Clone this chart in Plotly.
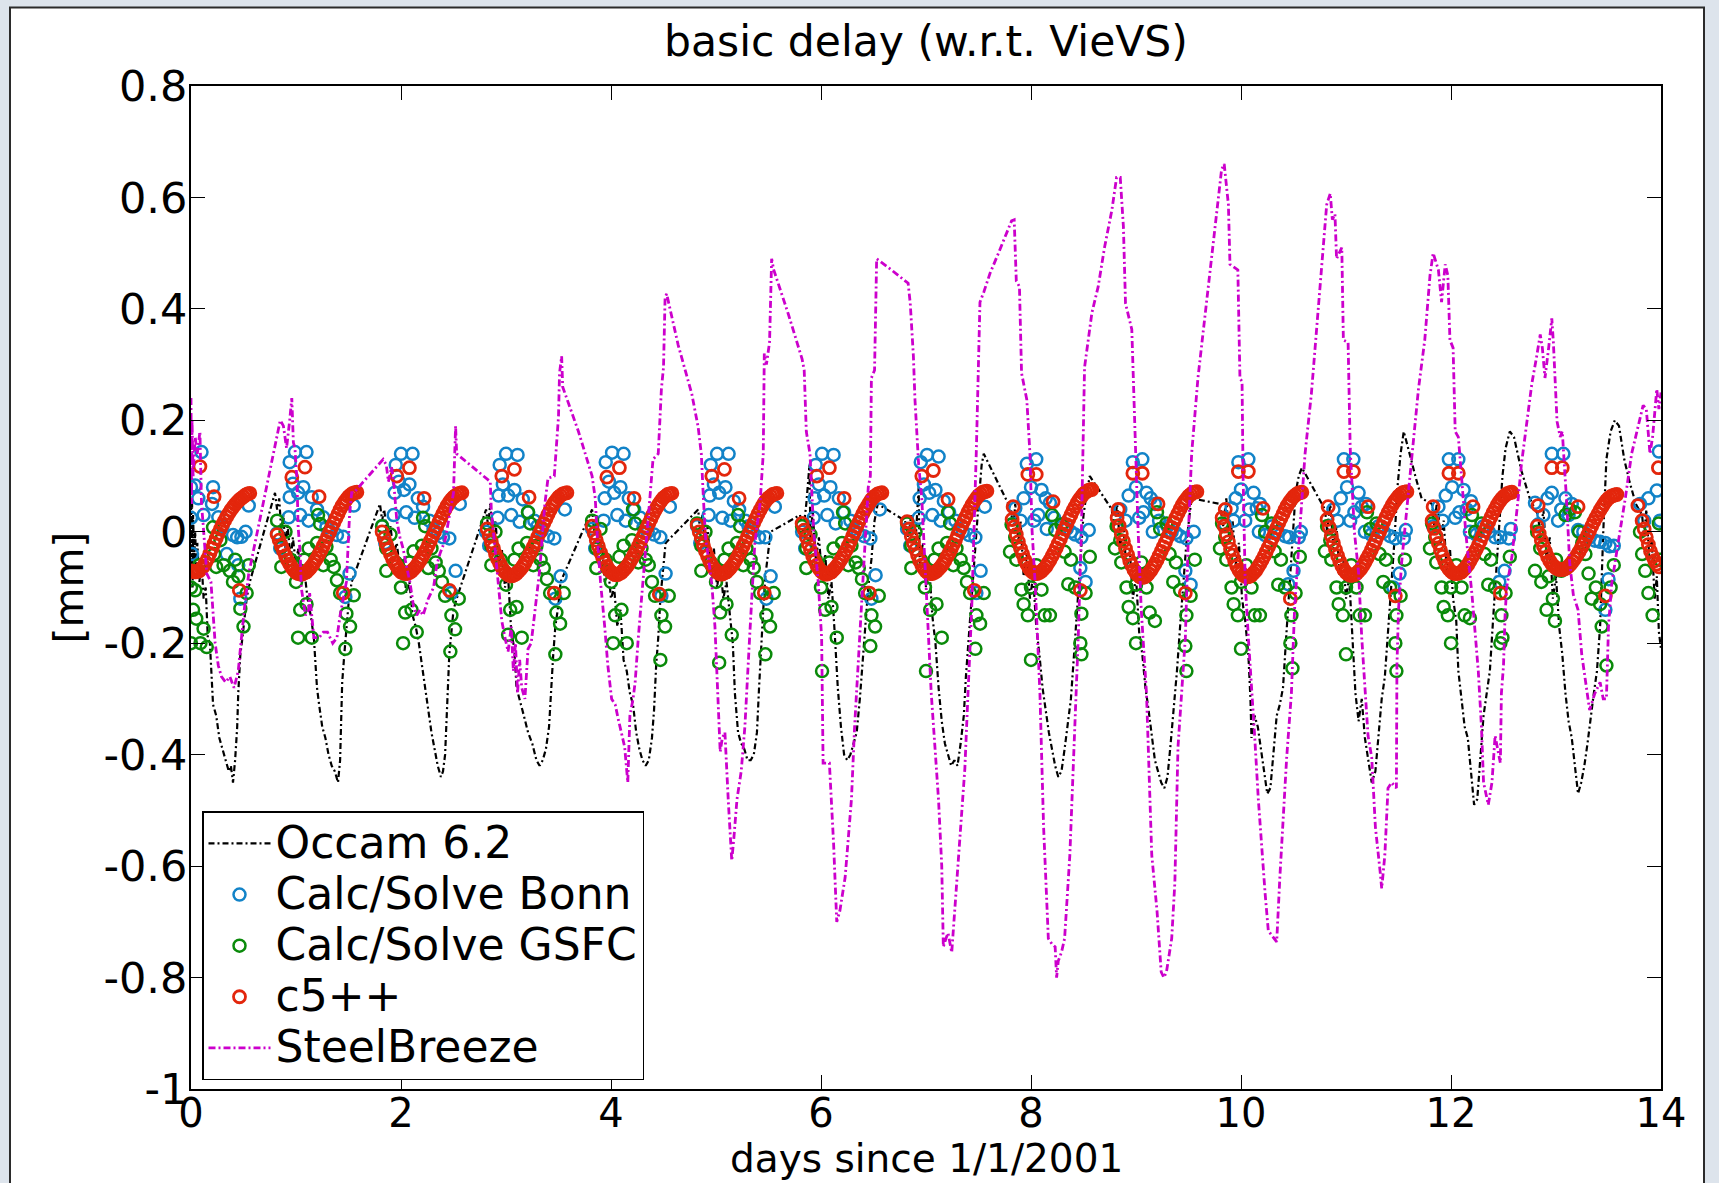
import plotly.graph_objects as go

# ---------------- data (days since 1/1/2001, mm) ----------------
occam = [
    (0.00, 0.05), (0.005, -0.08), (0.01, 0.06), (0.015, -0.10), (0.02, 0.03), (0.03, -0.05), (0.04, 0.00), (0.05, -0.07),
    (0.06, -0.02), (0.08, -0.09), (0.10, -0.05), (0.12, -0.12), (0.14, -0.10), (0.16, -0.19), (0.18, -0.20), (0.21, -0.31),
    (0.24, -0.33), (0.27, -0.37), (0.30, -0.39), (0.33, -0.41), (0.36, -0.43), (0.38, -0.42), (0.40, -0.45), (0.42, -0.41),
    (0.44, -0.35), (0.45, -0.29), (0.47, -0.22), (0.49, -0.19), (0.51, -0.15), (0.53, -0.12), (0.56, -0.09),
    (0.80, 0.07), (0.82, 0.04), (0.84, 0.06), (0.86, 0.00), (0.88, 0.03), (0.90, -0.03), (0.92, 0.01), (0.95, -0.05),
    (0.97, -0.01), (1.00, -0.06), (1.02, -0.03), (1.05, -0.09), (1.08, -0.07), (1.11, -0.12), (1.14, -0.15), (1.17, -0.19),
    (1.20, -0.28), (1.22, -0.31), (1.25, -0.35), (1.28, -0.37), (1.31, -0.40), (1.34, -0.42), (1.37, -0.43), (1.40, -0.45),
    (1.42, -0.41), (1.43, -0.34), (1.44, -0.27), (1.46, -0.22), (1.48, -0.17), (1.50, -0.13), (1.53, -0.09),
    (1.80, 0.05), (1.82, 0.02), (1.84, 0.04), (1.87, -0.01), (1.90, 0.01), (1.93, -0.04), (1.96, -0.02), (1.99, -0.07),
    (2.02, -0.05), (2.05, -0.11), (2.08, -0.09), (2.11, -0.15), (2.14, -0.17), (2.17, -0.20), (2.20, -0.24), (2.23, -0.28),
    (2.26, -0.32), (2.29, -0.36), (2.32, -0.39), (2.35, -0.42), (2.38, -0.44), (2.40, -0.43), (2.42, -0.40), (2.44, -0.30),
    (2.46, -0.22), (2.48, -0.18), (2.50, -0.14), (2.53, -0.12),
    (2.81, 0.04), (2.83, 0.01), (2.85, 0.05), (2.88, -0.02), (2.90, 0.02), (2.93, -0.06), (2.96, -0.03), (2.99, -0.10),
    (3.02, -0.08), (3.05, -0.18), (3.08, -0.21), (3.10, -0.28), (3.13, -0.30), (3.17, -0.33), (3.21, -0.36), (3.25, -0.38),
    (3.29, -0.41), (3.32, -0.42), (3.35, -0.41), (3.38, -0.39), (3.41, -0.35), (3.43, -0.28), (3.45, -0.22), (3.47, -0.17),
    (3.50, -0.13), (3.52, -0.09),
    (3.82, 0.04), (3.84, 0.00), (3.86, 0.03), (3.89, -0.04), (3.91, -0.01), (3.94, -0.09), (3.97, -0.06), (4.00, -0.12),
    (4.03, -0.10), (4.06, -0.17), (4.09, -0.14), (4.12, -0.23), (4.15, -0.25), (4.18, -0.29), (4.21, -0.31), (4.24, -0.36),
    (4.27, -0.39), (4.30, -0.41), (4.33, -0.42), (4.36, -0.41), (4.39, -0.37), (4.41, -0.32), (4.43, -0.24), (4.45, -0.19),
    (4.47, -0.12), (4.50, -0.06), (4.52, -0.02),
    (4.83, 0.04), (4.85, 0.00), (4.87, 0.03), (4.90, -0.03), (4.92, 0.01), (4.95, -0.07), (4.98, -0.03), (5.01, -0.10),
    (5.04, -0.06), (5.07, -0.12), (5.10, -0.09), (5.13, -0.15), (5.16, -0.20), (5.18, -0.29), (5.21, -0.36), (5.24, -0.38),
    (5.27, -0.39), (5.30, -0.41), (5.33, -0.41), (5.36, -0.40), (5.39, -0.36), (5.41, -0.28), (5.43, -0.20), (5.45, -0.14),
    (5.47, -0.08), (5.50, -0.03), (5.52, 0.00),
    (5.80, 0.03), (5.83, 0.00), (5.86, 0.05), (5.89, 0.12), (5.90, -0.02), (5.92, 0.04), (5.95, -0.05), (5.98, -0.01),
    (6.01, -0.08), (6.04, -0.04), (6.07, -0.12), (6.10, -0.09), (6.13, -0.18), (6.16, -0.28), (6.19, -0.35), (6.22, -0.40),
    (6.25, -0.41), (6.28, -0.40), (6.31, -0.38), (6.34, -0.36), (6.37, -0.30), (6.39, -0.25), (6.42, -0.17), (6.45, -0.10),
    (6.48, -0.05), (6.51, 0.02), (6.54, 0.05),
    (6.80, 0.02), (6.83, -0.01), (6.86, 0.03), (6.90, -0.02), (6.93, 0.08), (6.94, -0.06), (6.97, -0.02), (7.00, -0.10),
    (7.03, -0.06), (7.06, -0.15), (7.09, -0.20), (7.12, -0.28), (7.15, -0.34), (7.18, -0.38), (7.21, -0.40), (7.24, -0.42),
    (7.27, -0.41), (7.30, -0.42), (7.33, -0.38), (7.36, -0.33), (7.38, -0.26), (7.41, -0.18), (7.44, -0.10), (7.47, -0.03),
    (7.50, 0.05), (7.53, 0.12), (7.55, 0.14),
    (7.81, 0.04), (7.83, 0.00), (7.85, 0.05), (7.88, -0.02), (7.90, 0.02), (7.93, -0.08), (7.96, -0.04), (7.99, -0.12),
    (8.02, -0.08), (8.05, -0.17), (8.08, -0.22), (8.11, -0.28), (8.14, -0.32), (8.17, -0.36), (8.20, -0.39), (8.23, -0.42),
    (8.26, -0.44), (8.29, -0.43), (8.32, -0.39), (8.35, -0.34), (8.38, -0.30), (8.41, -0.22), (8.44, -0.14), (8.47, -0.05),
    (8.50, 0.03), (8.53, 0.07), (8.56, 0.10),
    (8.77, 0.04), (8.79, 0.00), (8.82, 0.05), (8.85, -0.03), (8.88, 0.01), (8.91, -0.07), (8.94, -0.03), (8.97, -0.12),
    (9.00, -0.08), (9.03, -0.18), (9.06, -0.22), (9.09, -0.28), (9.12, -0.32), (9.15, -0.37), (9.18, -0.41), (9.21, -0.43),
    (9.24, -0.45), (9.27, -0.46), (9.30, -0.44), (9.33, -0.38), (9.36, -0.32), (9.39, -0.25), (9.42, -0.17), (9.45, -0.10),
    (9.48, -0.02), (9.51, 0.03), (9.53, 0.06),
    (9.80, 0.05), (9.83, 0.01), (9.86, 0.06), (9.89, -0.02), (9.92, 0.02), (9.95, -0.06), (9.98, -0.02), (10.01, -0.12),
    (10.04, -0.16), (10.07, -0.22), (10.09, -0.30), (10.10, -0.37), (10.13, -0.33), (10.16, -0.35), (10.19, -0.39),
    (10.22, -0.43), (10.25, -0.47), (10.28, -0.46), (10.31, -0.40), (10.34, -0.33), (10.37, -0.31), (10.40, -0.28),
    (10.43, -0.19), (10.46, -0.10), (10.49, -0.01), (10.52, 0.07), (10.55, 0.10), (10.58, 0.115),
    (10.80, 0.04), (10.82, 0.00), (10.85, 0.05), (10.88, -0.03), (10.91, 0.01), (10.94, -0.08), (10.97, -0.04),
    (11.00, -0.12), (11.03, -0.08), (11.06, -0.18), (11.09, -0.29), (11.12, -0.34), (11.15, -0.30), (11.18, -0.37),
    (11.21, -0.41), (11.245, -0.45), (11.28, -0.43), (11.31, -0.37), (11.34, -0.30), (11.37, -0.26), (11.40, -0.18),
    (11.43, -0.10), (11.46, -0.02), (11.49, 0.08), (11.52, 0.14), (11.55, 0.18), (11.58, 0.16), (11.62, 0.13),
    (11.66, 0.10), (11.72, 0.06),
    (11.82, 0.05), (11.84, 0.01), (11.87, 0.06), (11.90, -0.02), (11.93, 0.02), (11.96, -0.07), (11.99, -0.03),
    (12.02, -0.12), (12.05, -0.16), (12.07, -0.25), (12.10, -0.30), (12.13, -0.35), (12.16, -0.37), (12.19, -0.43),
    (12.22, -0.49), (12.25, -0.48), (12.28, -0.41), (12.31, -0.33), (12.34, -0.29), (12.37, -0.25), (12.40, -0.16),
    (12.43, -0.07), (12.46, 0.02), (12.49, 0.10), (12.52, 0.15), (12.56, 0.18), (12.60, 0.17), (12.67, 0.11), (12.75, 0.06),
    (12.83, 0.03), (12.85, -0.01), (12.88, 0.04), (12.91, -0.05), (12.94, -0.01), (12.97, -0.12), (13.00, -0.08),
    (13.03, -0.17), (13.06, -0.22), (13.09, -0.29), (13.12, -0.34), (13.15, -0.37), (13.18, -0.42), (13.21, -0.47),
    (13.24, -0.45), (13.27, -0.42), (13.30, -0.38), (13.33, -0.33), (13.36, -0.29), (13.39, -0.25), (13.42, -0.17),
    (13.45, 0.00), (13.48, 0.13), (13.52, 0.18), (13.56, 0.20), (13.60, 0.19), (13.65, 0.13), (13.70, 0.09), (13.76, 0.05),
    (13.82, 0.03), (13.84, -0.01), (13.86, 0.04), (13.89, -0.05), (13.91, -0.01), (13.94, -0.12), (13.96, -0.08),
    (13.98, -0.18), (14.00, -0.21),
]

steelbreeze = [
    (0.00, 0.24), (0.005, 0.05), (0.01, 0.20), (0.02, 0.10), (0.04, 0.17), (0.06, 0.14), (0.085, 0.18), (0.10, 0.05),
    (0.117, 0.01), (0.15, -0.075), (0.19, -0.09), (0.23, -0.20), (0.26, -0.24), (0.29, -0.26), (0.33, -0.27), (0.37, -0.26),
    (0.41, -0.28), (0.45, -0.25), (0.47, -0.21), (0.51, -0.135), (0.55, -0.075),
    (0.85, 0.20), (0.88, 0.19), (0.91, 0.15), (0.94, 0.20), (0.96, 0.24), (0.975, 0.16), (0.99, 0.15), (1.01, 0.09),
    (1.02, 0.01), (1.04, -0.04), (1.05, -0.10), (1.09, -0.15), (1.12, -0.14), (1.13, -0.11), (1.15, -0.15), (1.17, -0.19),
    (1.22, -0.19), (1.26, -0.18), (1.30, -0.18), (1.35, -0.20), (1.39, -0.19), (1.42, -0.15), (1.48, -0.09), (1.51, 0.03),
    (1.53, 0.07), (1.55, 0.07),
    (1.83, 0.13), (1.86, 0.12), (1.88, 0.09), (1.91, 0.116), (1.93, 0.09), (1.94, 0.07), (1.96, 0.02), (1.99, -0.01),
    (2.02, -0.03), (2.05, -0.06), (2.085, -0.09), (2.12, -0.135), (2.15, -0.15), (2.18, -0.14), (2.21, -0.15), (2.26, -0.12),
    (2.31, -0.10), (2.34, -0.06), (2.37, -0.04), (2.42, -0.015), (2.50, 0.07), (2.52, 0.19), (2.53, 0.14),
    (2.85, 0.09), (2.86, 0.04), (2.89, -0.02), (2.93, -0.094), (2.96, -0.16), (2.99, -0.19), (3.02, -0.215), (3.05, -0.17),
    (3.07, -0.25), (3.09, -0.20), (3.11, -0.29), (3.13, -0.23), (3.15, -0.28), (3.18, -0.30), (3.21, -0.21), (3.24, -0.20),
    (3.28, -0.14), (3.32, -0.07), (3.37, 0.05), (3.40, 0.096), (3.46, 0.10), (3.50, 0.207), (3.51, 0.285), (3.53, 0.315),
    (3.54, 0.26),
    (3.69, 0.18), (3.82, 0.10), (3.85, 0.06), (3.87, -0.01), (3.90, -0.09), (3.94, -0.17), (3.97, -0.24), (4.006, -0.30),
    (4.04, -0.31), (4.07, -0.337), (4.13, -0.386), (4.16, -0.45), (4.18, -0.33), (4.21, -0.30), (4.23, -0.27), (4.26, -0.19),
    (4.32, -0.045), (4.37, 0.06), (4.40, 0.13), (4.45, 0.14), (4.48, 0.256), (4.50, 0.295), (4.515, 0.42), (4.53, 0.427),
    (4.64, 0.335), (4.77, 0.247), (4.83, 0.188), (4.86, 0.14), (4.88, 0.06), (4.90, -0.01), (4.93, -0.05), (4.96, -0.094),
    (4.99, -0.17), (5.02, -0.29), (5.04, -0.395), (5.06, -0.37), (5.085, -0.36), (5.117, -0.483), (5.15, -0.59),
    (5.17, -0.55), (5.20, -0.48), (5.24, -0.43), (5.275, -0.35), (5.32, -0.19), (5.37, -0.02), (5.42, 0.052), (5.45, 0.14),
    (5.46, 0.32), (5.48, 0.30), (5.51, 0.34), (5.53, 0.49), (5.55, 0.47),
    (5.69, 0.39), (5.82, 0.31), (5.84, 0.29), (5.86, 0.18), (5.895, 0.14), (5.93, 0.003), (5.975, -0.094), (6.006, -0.19),
    (6.02, -0.415), (6.08, -0.415), (6.12, -0.56), (6.15, -0.70), (6.18, -0.68), (6.23, -0.62), (6.29, -0.48), (6.32, -0.35),
    (6.355, -0.24), (6.40, -0.094), (6.45, 0.08), (6.47, 0.10), (6.48, 0.276), (6.51, 0.29), (6.53, 0.49),
    (6.67, 0.47), (6.83, 0.446), (6.85, 0.41), (6.88, 0.315), (6.895, 0.237), (6.93, 0.12), (6.96, 0.06), (6.99, -0.055),
    (7.02, -0.17), (7.05, -0.29), (7.085, -0.386), (7.12, -0.483), (7.15, -0.60), (7.165, -0.745), (7.19, -0.73),
    (7.21, -0.72), (7.245, -0.755), (7.275, -0.68), (7.32, -0.56), (7.37, -0.425), (7.40, -0.29), (7.435, -0.14),
    (7.48, 0.15), (7.514, 0.412), (7.55, 0.43),
    (7.61, 0.464), (7.69, 0.50), (7.815, 0.558), (7.84, 0.56), (7.86, 0.45), (7.89, 0.44), (7.91, 0.285), (7.96, 0.237),
    (7.99, 0.14), (8.01, 0.003), (8.04, -0.094), (8.085, -0.29), (8.12, -0.53), (8.165, -0.73), (8.20, -0.74),
    (8.23, -0.745), (8.244, -0.80), (8.26, -0.77), (8.29, -0.755), (8.32, -0.73), (8.37, -0.58), (8.40, -0.434),
    (8.45, -0.19), (8.48, 0.00), (8.50, 0.16), (8.51, 0.295),
    (8.58, 0.393), (8.64, 0.44), (8.70, 0.51), (8.77, 0.577), (8.815, 0.636), (8.85, 0.636), (8.88, 0.548), (8.90, 0.41),
    (8.96, 0.363), (8.99, 0.16), (9.02, 0.003), (9.05, -0.14), (9.10, -0.29), (9.12, -0.405), (9.15, -0.58), (9.20, -0.68),
    (9.24, -0.79), (9.265, -0.80), (9.29, -0.79), (9.34, -0.73), (9.37, -0.63), (9.40, -0.386), (9.47, -0.19),
    (9.50, 0.003), (9.53, 0.14),
    (9.59, 0.276), (9.66, 0.393), (9.72, 0.49), (9.78, 0.587), (9.815, 0.65), (9.84, 0.66), (9.86, 0.62), (9.88, 0.587),
    (9.895, 0.48), (9.97, 0.47), (9.99, 0.275), (10.01, 0.27), (10.02, 0.10), (10.04, -0.09), (10.07, -0.19),
    (10.10, -0.27), (10.13, -0.366), (10.165, -0.48), (10.20, -0.58), (10.23, -0.65), (10.26, -0.716), (10.31, -0.73),
    (10.34, -0.736), (10.37, -0.62), (10.40, -0.52), (10.435, -0.405), (10.48, -0.29), (10.51, -0.14), (10.56, 0.003),
    (10.61, 0.14), (10.67, 0.247), (10.72, 0.363), (10.77, 0.47), (10.816, 0.587), (10.85, 0.607), (10.87, 0.56),
    (10.895, 0.57), (10.91, 0.49), (10.96, 0.51), (10.975, 0.344), (11.02, 0.34), (11.04, 0.15), (11.08, 0.00),
    (11.12, -0.074), (11.15, -0.19), (11.18, -0.28), (11.21, -0.366), (11.245, -0.405), (11.28, -0.53), (11.325, -0.61),
    (11.34, -0.64), (11.37, -0.58), (11.40, -0.46), (11.435, -0.45), (11.48, -0.46), (11.485, -0.24), (11.50, -0.14),
    (11.53, -0.055),
    (11.595, 0.08), (11.63, 0.14), (11.69, 0.256), (11.75, 0.344), (11.80, 0.46), (11.83, 0.50), (11.88, 0.47),
    (11.91, 0.412), (11.945, 0.48), (11.97, 0.46), (11.99, 0.344), (12.02, 0.33), (12.04, 0.18), (12.07, 0.17),
    (12.10, 0.10), (12.14, 0.00), (12.20, -0.113), (12.26, -0.25), (12.29, -0.35), (12.31, -0.45), (12.355, -0.49),
    (12.39, -0.45), (12.42, -0.366), (12.47, -0.415), (12.48, -0.29), (12.50, -0.24), (12.515, -0.15), (12.53, -0.10),
    (12.58, -0.045),
    (12.61, 0.003), (12.64, 0.06), (12.67, 0.12), (12.72, 0.198), (12.77, 0.266), (12.816, 0.315), (12.85, 0.354),
    (12.87, 0.33), (12.895, 0.276), (12.93, 0.33), (12.96, 0.383), (12.975, 0.34), (12.99, 0.266), (13.01, 0.198),
    (13.04, 0.17), (13.06, 0.18), (13.086, 0.10), (13.10, 0.06), (13.13, -0.055), (13.165, -0.113), (13.21, -0.14),
    (13.245, -0.22), (13.29, -0.28), (13.32, -0.32), (13.37, -0.29), (13.42, -0.27), (13.45, -0.30), (13.48, -0.30),
    (13.50, -0.17), (13.53, -0.094),
    (13.595, -0.016), (13.66, 0.06), (13.72, 0.14), (13.785, 0.19), (13.83, 0.227), (13.86, 0.22), (13.895, 0.14),
    (13.92, 0.17), (13.94, 0.21), (13.96, 0.256), (13.98, 0.22), (14.00, 0.25),
]

bonn = [
    (0.00, 0.08), (0.00, 0.025), (0.01, -0.04), (0.04, 0.083), (0.10, 0.143), (0.07, 0.06), (0.12, 0.03), (0.20, 0.05),
    (0.21, 0.08), (0.26, 0.026), (0.30, 0.01), (0.34, -0.04), (0.40, -0.006), (0.44, -0.01), (0.48, -0.009), (0.45, -0.06),
    (0.47, -0.12), (0.55, 0.047), (0.52, 0.00),
    (0.82, -0.003), (0.85, -0.03), (0.93, 0.026), (0.94, 0.062), (0.94, 0.125), (0.97, 0.086), (0.99, 0.143), (1.02, 0.07),
    (1.04, 0.03), (1.07, 0.08), (1.10, 0.143), (1.12, 0.02), (1.15, 0.062), (1.20, 0.04), (1.26, 0.026), (1.29, 0.008),
    (1.33, 0.00), (1.39, -0.006), (1.45, -0.009), (1.47, -0.117), (1.51, -0.075), (1.55, 0.047),
    (1.82, 0.01), (1.85, -0.02), (1.93, 0.03), (1.94, 0.07), (1.95, 0.12), (1.98, 0.09), (2.00, 0.14), (2.03, 0.075),
    (2.05, 0.035), (2.08, 0.085), (2.11, 0.14), (2.13, 0.025), (2.16, 0.06), (2.21, 0.045), (2.27, 0.02), (2.31, 0.005),
    (2.35, -0.003), (2.40, -0.01), (2.46, -0.012), (2.48, -0.11), (2.52, -0.07), (2.56, 0.05),
    (2.81, 0.00), (2.84, -0.025), (2.92, 0.025), (2.93, 0.065), (2.94, 0.12), (2.97, 0.085), (3.00, 0.14), (3.02, 0.065),
    (3.05, 0.03), (3.08, 0.075), (3.11, 0.138), (3.13, 0.018), (3.16, 0.058), (3.21, 0.035), (3.27, 0.02), (3.30, 0.01),
    (3.34, 0.002), (3.40, -0.008), (3.46, -0.012), (3.47, -0.12), (3.52, -0.08), (3.56, 0.04),
    (3.82, 0.005), (3.85, -0.03), (3.93, 0.02), (3.94, 0.06), (3.95, 0.125), (3.98, 0.09), (4.01, 0.142), (4.03, 0.07),
    (4.06, 0.03), (4.09, 0.08), (4.12, 0.14), (4.14, 0.02), (4.17, 0.06), (4.22, 0.04), (4.28, 0.025), (4.31, 0.008),
    (4.35, 0.00), (4.41, -0.005), (4.47, -0.01), (4.48, -0.115), (4.52, -0.075), (4.56, 0.045),
    (4.82, 0.01), (4.85, -0.02), (4.93, 0.03), (4.94, 0.065), (4.95, 0.12), (4.98, 0.085), (5.01, 0.14), (5.03, 0.07),
    (5.06, 0.025), (5.09, 0.08), (5.12, 0.14), (5.14, 0.02), (5.17, 0.055), (5.22, 0.04), (5.28, 0.02), (5.31, 0.01),
    (5.35, 0.00), (5.41, -0.01), (5.47, -0.01), (5.48, -0.12), (5.52, -0.08), (5.56, 0.045),
    (5.82, 0.00), (5.85, -0.03), (5.93, 0.025), (5.94, 0.06), (5.95, 0.12), (5.98, 0.085), (6.01, 0.14), (6.03, 0.065),
    (6.06, 0.03), (6.09, 0.08), (6.12, 0.138), (6.14, 0.015), (6.17, 0.06), (6.22, 0.035), (6.28, 0.02), (6.31, 0.005),
    (6.35, -0.002), (6.41, -0.008), (6.47, -0.012), (6.48, -0.12), (6.52, -0.078), (6.56, 0.04),
    (6.82, 0.005), (6.85, -0.025), (6.93, 0.025), (6.94, 0.06), (6.95, 0.125), (6.98, 0.085), (7.01, 0.138), (7.03, 0.07),
    (7.06, 0.03), (7.09, 0.075), (7.12, 0.135), (7.14, 0.02), (7.17, 0.055), (7.22, 0.035), (7.28, 0.02), (7.31, 0.005),
    (7.35, 0.00), (7.41, -0.006), (7.47, -0.01), (7.48, -0.11), (7.52, -0.07), (7.56, 0.045),
    (7.82, 0.013), (7.85, 0.042), (7.90, 0.02), (7.93, 0.06), (7.96, 0.122), (8.00, 0.08), (8.05, 0.13), (8.03, 0.02),
    (8.07, 0.03), (8.10, 0.075), (8.14, 0.06), (8.18, 0.052), (8.15, 0.005), (8.22, 0.025), (8.30, 0.013), (8.34, 0.005),
    (8.38, 0.00), (8.42, -0.005), (8.48, -0.01), (8.47, -0.065), (8.52, -0.09), (8.55, 0.003),
    (8.82, 0.01), (8.85, 0.04), (8.90, 0.02), (8.93, 0.065), (8.97, 0.125), (9.00, 0.08), (9.06, 0.13), (9.03, 0.025),
    (9.07, 0.035), (9.10, 0.07), (9.14, 0.06), (9.18, 0.05), (9.16, 0.00), (9.22, 0.02), (9.30, 0.01), (9.34, 0.00),
    (9.38, -0.002), (9.42, -0.008), (9.48, -0.012), (9.47, -0.07), (9.52, -0.095), (9.55, 0.00),
    (9.85, 0.013), (9.91, 0.042), (9.93, 0.02), (9.95, 0.06), (9.975, 0.125), (10.00, 0.076), (10.07, 0.13), (10.04, 0.02),
    (10.08, 0.04), (10.12, 0.07), (10.15, 0.042), (10.18, 0.05), (10.17, 0.00), (10.23, -0.006), (10.30, 0.01),
    (10.35, 0.00), (10.42, -0.008), (10.46, -0.01), (10.55, -0.01), (10.45, -0.094), (10.50, -0.07), (10.57, 0.00),
    (10.83, 0.01), (10.88, 0.04), (10.92, 0.02), (10.95, 0.06), (10.98, 0.13), (11.01, 0.08), (11.07, 0.13), (11.04, 0.02),
    (11.08, 0.035), (11.12, 0.07), (11.15, 0.045), (11.19, 0.05), (11.18, 0.00), (11.24, -0.005), (11.31, 0.01),
    (11.36, 0.00), (11.42, -0.008), (11.47, -0.012), (11.55, -0.012), (11.45, -0.10), (11.51, -0.075), (11.57, 0.003),
    (11.83, 0.01), (11.88, 0.045), (11.92, 0.02), (11.95, 0.065), (11.98, 0.13), (12.01, 0.08), (12.07, 0.13),
    (12.04, 0.025), (12.08, 0.035), (12.12, 0.075), (12.15, 0.04), (12.19, 0.055), (12.18, 0.00), (12.24, -0.005),
    (12.31, 0.01), (12.36, 0.00), (12.42, -0.01), (12.47, -0.01), (12.55, -0.012), (12.46, -0.09), (12.51, -0.07),
    (12.57, 0.005),
    (12.80, 0.052), (12.83, 0.013), (12.88, 0.03), (12.92, 0.06), (12.96, 0.14), (12.96, 0.07), (13.07, 0.14), (13.02, 0.02),
    (13.05, 0.04), (13.09, 0.06), (13.12, 0.03), (13.15, 0.05), (13.21, 0.003), (13.26, 0.00), (13.32, -0.01),
    (13.37, -0.016), (13.42, -0.018), (13.47, -0.02), (13.51, -0.026), (13.55, -0.025), (13.50, -0.085), (13.47, -0.14),
    (13.80, 0.05), (13.84, 0.02), (13.88, 0.06), (13.96, 0.074), (13.98, 0.144), (13.99, 0.02),
]

gsfc = [
    (0.00, -0.10), (0.00, -0.20), (0.02, -0.14), (0.04, -0.105), (0.05, -0.156), (0.09, -0.20), (0.12, -0.174),
    (0.15, -0.207), (0.08, -0.06), (0.21, 0.008), (0.22, -0.04), (0.24, -0.063), (0.28, -0.015), (0.31, -0.06),
    (0.37, -0.07), (0.40, -0.09), (0.42, -0.05), (0.45, -0.08), (0.47, -0.138), (0.50, -0.17), (0.53, -0.11), (0.55, -0.06),
    (0.82, 0.02), (0.86, -0.027), (0.86, -0.063), (0.90, 0.00), (0.95, -0.05), (1.00, -0.09), (1.02, -0.19), (1.04, -0.14),
    (1.08, -0.05), (1.10, -0.13), (1.12, -0.03), (1.15, -0.19), (1.20, -0.02), (1.21, 0.03), (1.23, 0.014), (1.26, -0.06),
    (1.29, -0.027), (1.33, -0.05), (1.36, -0.063), (1.39, -0.087), (1.42, -0.11), (1.47, -0.21), (1.48, -0.147),
    (1.515, -0.17), (1.55, -0.114),
    (1.82, 0.01), (1.86, -0.03), (1.86, -0.07), (1.90, -0.005), (1.95, -0.055), (2.00, -0.10), (2.02, -0.20), (2.04, -0.145),
    (2.08, -0.055), (2.10, -0.14), (2.12, -0.035), (2.15, -0.18), (2.20, -0.025), (2.21, 0.025), (2.23, 0.01), (2.26, -0.065),
    (2.29, -0.03), (2.33, -0.055), (2.36, -0.07), (2.39, -0.09), (2.42, -0.115), (2.47, -0.215), (2.48, -0.15),
    (2.515, -0.175), (2.55, -0.12),
    (2.82, 0.015), (2.86, -0.025), (2.86, -0.06), (2.90, 0.00), (2.95, -0.05), (3.00, -0.095), (3.02, -0.185), (3.04, -0.14),
    (3.08, -0.05), (3.10, -0.135), (3.12, -0.03), (3.15, -0.19), (3.20, -0.02), (3.21, 0.035), (3.23, 0.015), (3.26, -0.06),
    (3.29, -0.025), (3.33, -0.05), (3.36, -0.065), (3.39, -0.085), (3.42, -0.11), (3.47, -0.22), (3.48, -0.145),
    (3.515, -0.165), (3.55, -0.11),
    (3.82, 0.02), (3.86, -0.03), (3.86, -0.065), (3.90, 0.005), (3.95, -0.05), (4.00, -0.09), (4.02, -0.20), (4.04, -0.15),
    (4.08, -0.045), (4.10, -0.14), (4.12, -0.025), (4.15, -0.20), (4.20, -0.015), (4.21, 0.04), (4.23, 0.015), (4.26, -0.055),
    (4.29, -0.03), (4.33, -0.05), (4.36, -0.06), (4.39, -0.09), (4.42, -0.115), (4.47, -0.23), (4.48, -0.15), (4.515, -0.17),
    (4.55, -0.115),
    (4.82, 0.015), (4.86, -0.025), (4.86, -0.07), (4.90, 0.00), (4.95, -0.055), (5.00, -0.09), (5.03, -0.235), (5.04, -0.145),
    (5.08, -0.05), (5.10, -0.13), (5.12, -0.03), (5.15, -0.185), (5.20, -0.02), (5.21, 0.03), (5.23, 0.01), (5.26, -0.06),
    (5.29, -0.03), (5.33, -0.05), (5.36, -0.065), (5.39, -0.09), (5.42, -0.11), (5.47, -0.22), (5.48, -0.15), (5.515, -0.17),
    (5.55, -0.11),
    (5.82, 0.01), (5.86, -0.03), (5.86, -0.065), (5.90, -0.005), (5.95, -0.05), (6.00, -0.10), (6.01, -0.25), (6.04, -0.14),
    (6.08, -0.055), (6.10, -0.135), (6.12, -0.03), (6.15, -0.19), (6.20, -0.02), (6.21, 0.035), (6.23, 0.015), (6.26, -0.06),
    (6.29, -0.025), (6.33, -0.055), (6.36, -0.065), (6.39, -0.085), (6.42, -0.11), (6.47, -0.205), (6.48, -0.15),
    (6.515, -0.17), (6.55, -0.115),
    (6.82, 0.015), (6.86, -0.025), (6.86, -0.065), (6.90, 0.00), (6.95, -0.05), (6.99, -0.10), (7.00, -0.25), (7.04, -0.14),
    (7.08, -0.05), (7.10, -0.13), (7.12, -0.03), (7.15, -0.19), (7.20, -0.02), (7.21, 0.035), (7.23, 0.015), (7.26, -0.06),
    (7.29, -0.03), (7.33, -0.05), (7.36, -0.065), (7.39, -0.09), (7.42, -0.11), (7.47, -0.21), (7.48, -0.15), (7.515, -0.165),
    (7.55, -0.11),
    (7.80, -0.036), (7.815, 0.013), (7.85, -0.01), (7.86, -0.05), (7.91, -0.104), (7.93, -0.13), (7.97, -0.15), (8.00, -0.23),
    (8.00, -0.10), (8.05, -0.06), (8.10, -0.104), (8.13, -0.15), (8.18, -0.15), (8.20, 0.03), (8.23, 0.003), (8.29, 0.013),
    (8.32, -0.036), (8.355, -0.094), (8.38, -0.05), (8.42, -0.10), (8.48, -0.147), (8.47, -0.20), (8.48, -0.22),
    (8.52, -0.11), (8.56, -0.045),
    (8.80, -0.03), (8.815, 0.01), (8.85, -0.015), (8.86, -0.055), (8.91, -0.10), (8.93, -0.135), (8.97, -0.155),
    (9.00, -0.20), (9.00, -0.095), (9.05, -0.055), (9.10, -0.10), (9.13, -0.145), (9.18, -0.16), (9.20, 0.035),
    (9.23, 0.005), (9.29, 0.015), (9.32, -0.04), (9.355, -0.09), (9.38, -0.055), (9.42, -0.105), (9.48, -0.15),
    (9.47, -0.205), (9.48, -0.25), (9.52, -0.115), (9.56, -0.05),
    (9.80, -0.03), (9.82, 0.015), (9.85, -0.01), (9.86, -0.05), (9.91, -0.10), (9.93, -0.13), (9.97, -0.15), (10.00, -0.21),
    (10.00, -0.09), (10.05, -0.06), (10.10, -0.10), (10.13, -0.15), (10.18, -0.15), (10.20, 0.03), (10.23, 0.00),
    (10.29, 0.015), (10.32, -0.035), (10.355, -0.095), (10.38, -0.05), (10.42, -0.10), (10.48, -0.15), (10.47, -0.20),
    (10.49, -0.245), (10.52, -0.11), (10.56, -0.045),
    (10.80, -0.035), (10.82, 0.01), (10.85, -0.015), (10.86, -0.05), (10.91, -0.10), (10.93, -0.13), (10.97, -0.15),
    (11.00, -0.22), (11.00, -0.10), (11.05, -0.06), (11.10, -0.10), (11.13, -0.15), (11.18, -0.15), (11.20, 0.035),
    (11.23, 0.005), (11.29, 0.015), (11.32, -0.04), (11.355, -0.09), (11.38, -0.05), (11.42, -0.10), (11.48, -0.15),
    (11.47, -0.20), (11.48, -0.25), (11.52, -0.115), (11.56, -0.05),
    (11.80, -0.03), (11.82, 0.015), (11.85, -0.01), (11.86, -0.055), (11.91, -0.10), (11.93, -0.135), (11.97, -0.15),
    (12.00, -0.20), (12.00, -0.10), (12.05, -0.06), (12.10, -0.10), (12.13, -0.15), (12.18, -0.155), (12.20, 0.03),
    (12.23, 0.00), (12.29, 0.015), (12.32, -0.04), (12.355, -0.095), (12.38, -0.05), (12.42, -0.10), (12.48, -0.15),
    (12.47, -0.20), (12.49, -0.19), (12.52, -0.11), (12.56, -0.045),
    (12.80, -0.07), (12.82, 0.00), (12.85, -0.03), (12.86, -0.09), (12.91, -0.14), (12.93, -0.08), (12.97, -0.12),
    (12.99, -0.16), (13.00, -0.05), (13.05, -0.07), (13.09, 0.03), (13.13, 0.04), (13.18, 0.035), (13.22, 0.00),
    (13.25, -0.02), (13.28, -0.04), (13.31, -0.075), (13.34, -0.12), (13.38, -0.10), (13.42, -0.13), (13.435, -0.17),
    (13.48, -0.24), (13.52, -0.10), (13.55, -0.06),
    (13.80, 0.00), (13.82, -0.04), (13.85, -0.07), (13.88, -0.11), (13.92, -0.15), (13.98, 0.015), (13.99, -0.05),
]

# c5++ : one dense curve per session (regular epochs) plus a few separate points
c5_session_start = [0.00, 0.82, 1.82, 2.82, 3.82, 4.82, 5.82, 6.82, 7.82, 8.82, 9.82, 10.82, 11.82, 12.82, 13.82]
c5_session_len = [29, 39, 39, 39, 39, 39, 39, 39, 39, 39, 39, 39, 39, 39, 9]
c5_epoch_step = 0.02
c5_curve = [
    -0.07, -0.071, -0.072, -0.071, -0.07, -0.066, -0.062, -0.055, -0.048, -0.039, -0.03, -0.021, -0.012, -0.003, 0.005,
    0.013, 0.02, 0.027, 0.033, 0.039, 0.044, 0.049, 0.053, 0.057, 0.06, 0.063, 0.066, 0.068, 0.069,
    -0.005, -0.015, -0.025, -0.034, -0.043, -0.051, -0.058, -0.064, -0.069, -0.073, -0.075, -0.076, -0.076, -0.074, -0.072,
    -0.068, -0.064, -0.059, -0.053, -0.047, -0.04, -0.033, -0.025, -0.017, -0.009, -0.001, 0.008, 0.016, 0.024, 0.032,
    0.04, 0.047, 0.053, 0.058, 0.063, 0.066, 0.069, 0.070, 0.071,
    0.0, -0.011, -0.022, -0.032, -0.041, -0.049, -0.056, -0.062, -0.068, -0.072, -0.074, -0.075, -0.075, -0.073, -0.071,
    -0.067, -0.063, -0.058, -0.052, -0.046, -0.039, -0.032, -0.024, -0.016, -0.008, 0.0, 0.009, 0.017, 0.025, 0.033,
    0.04, 0.047, 0.053, 0.058, 0.062, 0.065, 0.068, 0.069, 0.07,
    0.005, -0.007, -0.018, -0.029, -0.04, -0.049, -0.057, -0.064, -0.07, -0.074, -0.077, -0.079, -0.079, -0.077, -0.075,
    -0.071, -0.067, -0.062, -0.056, -0.049, -0.042, -0.035, -0.027, -0.019, -0.01, -0.002, 0.007, 0.015, 0.023, 0.031,
    0.039, 0.046, 0.052, 0.057, 0.062, 0.065, 0.068, 0.069, 0.07,
    0.01, -0.003, -0.015, -0.026, -0.037, -0.046, -0.055, -0.062, -0.068, -0.072, -0.075, -0.077, -0.077, -0.075, -0.073,
    -0.069, -0.065, -0.06, -0.054, -0.048, -0.041, -0.034, -0.026, -0.018, -0.01, -0.002, 0.007, 0.015, 0.023, 0.031,
    0.038, 0.045, 0.051, 0.056, 0.061, 0.064, 0.067, 0.068, 0.069,
    0.012, 0.0, -0.012, -0.024, -0.035, -0.044, -0.053, -0.06, -0.066, -0.07, -0.074, -0.076, -0.076, -0.074, -0.072,
    -0.068, -0.064, -0.059, -0.053, -0.047, -0.04, -0.033, -0.025, -0.017, -0.009, -0.001, 0.008, 0.016, 0.024, 0.032,
    0.039, 0.046, 0.052, 0.057, 0.061, 0.064, 0.067, 0.068, 0.069,
    0.015, 0.003, -0.01, -0.022, -0.033, -0.043, -0.052, -0.06, -0.066, -0.071, -0.074, -0.076, -0.076, -0.074, -0.072,
    -0.068, -0.064, -0.059, -0.053, -0.047, -0.04, -0.033, -0.025, -0.017, -0.008, 0.0, 0.009, 0.017, 0.025, 0.033,
    0.04, 0.046, 0.052, 0.058, 0.062, 0.065, 0.068, 0.069, 0.07,
    0.018, 0.005, -0.008, -0.02, -0.032, -0.042, -0.052, -0.06, -0.066, -0.071, -0.074, -0.075, -0.075, -0.073, -0.071,
    -0.067, -0.063, -0.058, -0.052, -0.045, -0.038, -0.031, -0.023, -0.015, -0.006, 0.003, 0.011, 0.019, 0.027, 0.035,
    0.042, 0.049, 0.055, 0.06, 0.065, 0.068, 0.071, 0.072, 0.073,
    0.022, 0.009, -0.005, -0.018, -0.03, -0.04, -0.05, -0.058, -0.065, -0.07, -0.073, -0.075, -0.075, -0.073, -0.071,
    -0.067, -0.063, -0.057, -0.051, -0.044, -0.037, -0.029, -0.021, -0.013, -0.004, 0.005, 0.013, 0.022, 0.03, 0.038,
    0.045, 0.052, 0.058, 0.063, 0.068, 0.071, 0.074, 0.075, 0.076,
    0.025, 0.011, -0.004, -0.017, -0.03, -0.041, -0.052, -0.06, -0.068, -0.074, -0.078, -0.081, -0.082, -0.081, -0.079,
    -0.075, -0.07, -0.064, -0.058, -0.051, -0.043, -0.035, -0.027, -0.019, -0.01, -0.001, 0.008, 0.017, 0.025, 0.033,
    0.041, 0.048, 0.054, 0.059, 0.064, 0.067, 0.07, 0.071, 0.072,
    0.025, 0.01, -0.005, -0.018, -0.031, -0.042, -0.053, -0.062, -0.069, -0.074, -0.078, -0.08, -0.081, -0.08, -0.078,
    -0.074, -0.07, -0.064, -0.058, -0.051, -0.044, -0.036, -0.028, -0.02, -0.011, -0.002, 0.007, 0.016, 0.024, 0.032,
    0.04, 0.047, 0.053, 0.058, 0.063, 0.066, 0.069, 0.07, 0.071,
    0.022, 0.008, -0.007, -0.02, -0.032, -0.043, -0.053, -0.061, -0.068, -0.073, -0.076, -0.078, -0.078, -0.077, -0.075,
    -0.071, -0.067, -0.061, -0.055, -0.048, -0.041, -0.033, -0.025, -0.017, -0.008, 0.0, 0.009, 0.018, 0.026, 0.034,
    0.041, 0.048, 0.054, 0.059, 0.064, 0.067, 0.07, 0.071, 0.072,
    0.02, 0.006, -0.008, -0.021, -0.033, -0.044, -0.053, -0.061, -0.067, -0.071, -0.074, -0.075, -0.075, -0.074, -0.072,
    -0.068, -0.064, -0.059, -0.053, -0.046, -0.039, -0.032, -0.024, -0.016, -0.007, 0.002, 0.01, 0.018, 0.026, 0.034,
    0.041, 0.048, 0.054, 0.059, 0.063, 0.066, 0.069, 0.07, 0.071,
    0.01, -0.003, -0.015, -0.026, -0.036, -0.045, -0.052, -0.058, -0.062, -0.065, -0.067, -0.068, -0.068, -0.067, -0.065,
    -0.062, -0.058, -0.053, -0.048, -0.042, -0.036, -0.029, -0.022, -0.014, -0.006, 0.002, 0.01, 0.018, 0.025, 0.032,
    0.039, 0.045, 0.051, 0.056, 0.06, 0.063, 0.065, 0.066, 0.067,
    0.02, 0.005, -0.01, -0.023, -0.035, -0.044, -0.052, -0.058, -0.063,
]
c5_extra = [
    (0.085, 0.117), (0.22, 0.063), (0.46, -0.105),
    (0.96, 0.098), (1.085, 0.116), (1.22, 0.063), (1.45, -0.11),
    (1.96, 0.10), (2.08, 0.115), (2.22, 0.06), (2.46, -0.105),
    (2.96, 0.10), (3.08, 0.112), (3.22, 0.062), (3.46, -0.11),
    (3.96, 0.098), (4.08, 0.115), (4.22, 0.06), (4.46, -0.112),
    (4.96, 0.10), (5.08, 0.112), (5.22, 0.06), (5.46, -0.11),
    (5.96, 0.10), (6.08, 0.115), (6.22, 0.06), (6.46, -0.11),
    (6.96, 0.10), (7.07, 0.11), (7.21, 0.058), (7.46, -0.105),
    (7.83, 0.045), (7.97, 0.103), (8.05, 0.103), (8.21, 0.054), (8.47, -0.105),
    (8.83, 0.04), (8.97, 0.105), (9.06, 0.105), (9.21, 0.05), (9.47, -0.11),
    (9.85, 0.04), (9.975, 0.108), (10.07, 0.108), (10.21, 0.042), (10.47, -0.12),
    (10.83, 0.045), (10.98, 0.108), (11.07, 0.108), (11.21, 0.045), (11.47, -0.115),
    (11.83, 0.045), (11.98, 0.105), (12.07, 0.105), (12.21, 0.045), (12.47, -0.11),
    (12.83, 0.047), (12.96, 0.115), (13.06, 0.115), (13.21, 0.045), (13.47, -0.115),
    (13.78, 0.047), (13.975, 0.115),
]

x_ticks = [0, 2, 4, 6, 8, 10, 12, 14]
y_ticks = [-1, -0.8, -0.6, -0.4, -0.2, 0, 0.2, 0.4, 0.6, 0.8]
y_tick_labels = ["-1", "-0.8", "-0.6", "-0.4", "-0.2", "0", "0.2", "0.4", "0.6", "0.8"]
series_names = ["Occam 6.2", "Calc/Solve Bonn", "Calc/Solve GSFC", "c5++", "SteelBreeze"]

# ---------------- build ----------------
def split(pts):
    return [p[0] for p in pts], [p[1] for p in pts]

c5_x, c5_y = [], []
k = 0
for s, n in zip(c5_session_start, c5_session_len):
    for i in range(n):
        if k < len(c5_curve):
            c5_x.append(s + i * c5_epoch_step)
            c5_y.append(c5_curve[k])
        k += 1
ex, ey = split(c5_extra)
c5_x += ex
c5_y += ey

FONT = "DejaVu Sans"
BLUE = "#1283c8"
GREEN = "#0a8a0a"
RED = "#e3260c"
MAG = "#cc00cc"


def legend_name(s):
    return '<span style="font-size:44px">' + s + "</span>"


fig = go.Figure()
ox, oy = split(occam)
fig.add_trace(go.Scatter(x=ox, y=oy, mode="lines", name=legend_name(series_names[0]),
                         line=dict(color="black", width=2.2, dash="6px,3px,2px,3px")))
bx, by = split(bonn)
fig.add_trace(go.Scatter(x=bx, y=by, mode="markers", name=legend_name(series_names[1]),
                         marker=dict(symbol="circle-open", size=12, color=BLUE, line=dict(width=2.5, color=BLUE))))
gx, gy = split(gsfc)
fig.add_trace(go.Scatter(x=gx, y=gy, mode="markers", name=legend_name(series_names[2]),
                         marker=dict(symbol="circle-open", size=12, color=GREEN, line=dict(width=2.5, color=GREEN))))
fig.add_trace(go.Scatter(x=c5_x, y=c5_y, mode="markers", name=legend_name(series_names[3]),
                         marker=dict(symbol="circle-open", size=12, color=RED, line=dict(width=2.8, color=RED))))
sx, sy = split(steelbreeze)
fig.add_trace(go.Scatter(x=sx, y=sy, mode="lines", name=legend_name(series_names[4]),
                         line=dict(color=MAG, width=2.8, dash="7px,3px,2px,3px")))

L, R, T, B = 191, 58, 85.5, 94.4
W, H = 1719, 1183
pw, ph = W - L - R, H - T - B


def px_x(x):
    return (x - L) / pw


def px_y(y):
    return (H - B - y) / ph


axis_common = dict(
    showgrid=False, zeroline=False, showline=True, linecolor="black", linewidth=2,
    mirror="ticks", ticks="inside", ticklen=14, tickwidth=1.2, tickcolor="black",
)

fig.update_layout(
    width=W, height=H,
    margin=dict(l=L, r=R, t=T, b=B, pad=0),
    paper_bgcolor="#dde4ec",
    plot_bgcolor="white",
    showlegend=True,
    legend=dict(
        x=px_x(202), y=px_y(1080), xanchor="left", yanchor="bottom",
        bgcolor="white", bordercolor="black", borderwidth=1.5,
        font=dict(family=FONT, size=37, color="black"),
        itemwidth=62, tracegroupgap=0,
    ),
    xaxis=dict(range=[0, 14], tickvals=x_ticks, ticktext=[str(v) for v in x_ticks],
               ticklabelstandoff=-12, tickfont=dict(family=FONT, size=40, color="black"), **axis_common),
    yaxis=dict(range=[-1, 0.8], tickvals=y_ticks, ticktext=y_tick_labels,
               ticklabelstandoff=-7, tickfont=dict(family=FONT, size=43, color="black"), **axis_common),
    shapes=[dict(type="rect", xref="paper", yref="paper", layer="below",
                 x0=px_x(10), x1=px_x(1704), y0=px_y(1200), y1=px_y(7),
                 fillcolor="white", line=dict(color="#2b2b2b", width=2))],
    annotations=[
        dict(text="days since 1/1/2001", xref="paper", yref="paper", x=0.5, y=px_y(1158),
             xanchor="center", yanchor="middle", showarrow=False,
             font=dict(family=FONT, size=39, color="black")),
        dict(text="basic delay (w.r.t. VieVS)", xref="paper", yref="paper", x=0.5, y=px_y(40.5),
             xanchor="center", yanchor="middle", showarrow=False,
             font=dict(family=FONT, size=42.5, color="black")),
        dict(text="[mm]", xref="paper", yref="paper", x=px_x(68), y=0.5, textangle=-90,
             xanchor="center", yanchor="middle", showarrow=False,
             font=dict(family=FONT, size=41, color="black")),
    ],
)

fig.write_html("out.html")
